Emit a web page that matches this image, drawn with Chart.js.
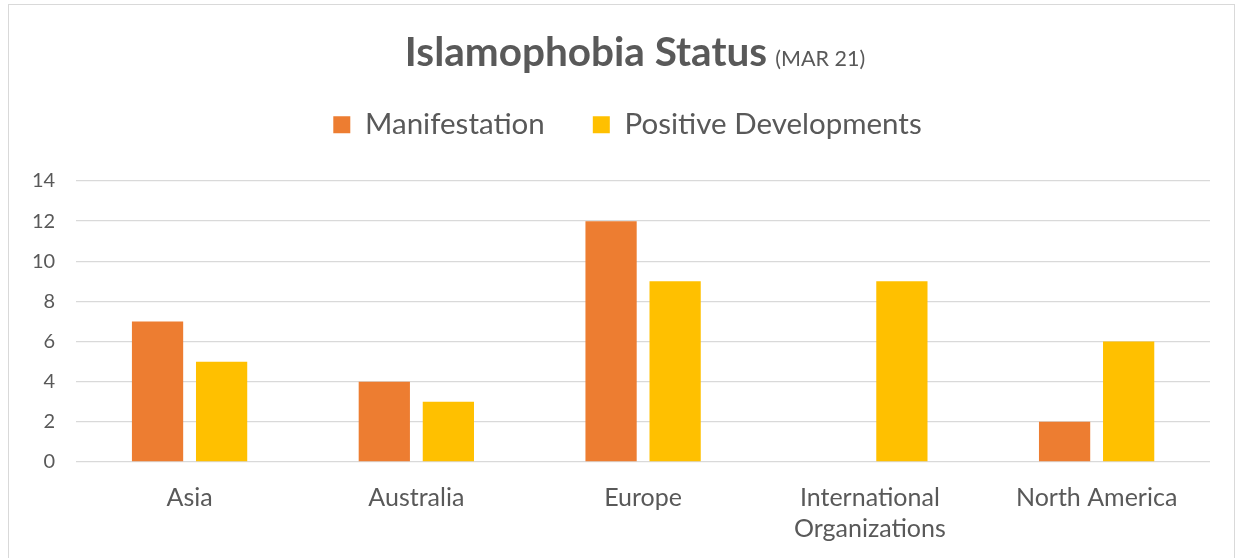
<!DOCTYPE html>
<html>
<head>
<meta charset="utf-8">
<script src="https://cdn.jsdelivr.net/npm/chart.js@4"></script>
<style>
  html, body { margin: 0; padding: 0; background: #fff; }
  #wrap { position: relative; width: 1238px; height: 558px; overflow: hidden; }
  #frame { position: absolute; left: 8px; top: 4px; width: 1227px; height: 560px; border: 1px solid #d9d9d9; box-sizing: border-box; }
  #title { position: absolute; left: 0; top: 26px; width: 1270px; text-align: center; color: #595959; font-family: Lato, "Open Sans", sans-serif; white-space: nowrap; }
  #title .main { font-size: 40.5px; font-weight: bold; }
  #title .sub { font-size: 21.5px; margin-left: 4px; }
  canvas { position: absolute; left: 0; top: 0; }
</style>
</head>
<body>
<div id="wrap">
  <div id="frame"></div>
  <canvas id="c" width="1238" height="558"></canvas>
  <div id="title"><span class="main">Islamophobia Status</span> <span class="sub">(MAR 21)</span></div>
</div>
<script>
const categories = ['Asia', 'Australia', 'Europe', ['International', 'Organizations'], 'North America'];
const manifestation = [7, 4, 12, null, 2];
const positiveDevelopments = [5, 3, 9, 9, 6];
const yTicks = [0, 2, 4, 6, 8, 10, 12, 14];

const textColor = '#595959';
const fontFamily = 'Lato, "Open Sans", sans-serif';

const padTop = 62;
const legendPad = 48;

new Chart(document.getElementById('c'), {
  type: 'bar',
  data: {
    labels: categories,
    datasets: [
      { label: 'Manifestation', data: manifestation, backgroundColor: '#ED7D31', borderWidth: 0,
        categoryPercentage: 0.565, barPercentage: 0.8 },
      { label: 'Positive Developments', data: positiveDevelopments, backgroundColor: '#FFC000', borderWidth: 0,
        categoryPercentage: 0.565, barPercentage: 0.8 }
    ]
  },
  options: {
    responsive: false,
    devicePixelRatio: 1,
    animation: false,
    layout: { padding: { top: padTop, right: 28, left: 11, bottom: 0 } },
    plugins: {
      title: { display: false },
      tooltip: { enabled: false },
      legend: {
        position: 'top',
        labels: {
          color: textColor,
          font: { family: fontFamily, size: 29.5 },
          boxWidth: 17, boxHeight: 17,
          padding: legendPad,
          useBorderRadius: false
        }
      }
    },
    scales: {
      x: {
        grid: { display: false, drawTicks: false },
        border: { display: false },
        afterFit: (scale) => { scale.height = 558 - 462; },
        ticks: {
          color: textColor,
          font: { family: fontFamily, size: 25, lineHeight: 1.25 },
          maxRotation: 0, minRotation: 0, autoSkip: false, padding: 20
        }
      },
      y: {
        min: 0, max: 14,
        afterBuildTicks: (axis) => { axis.ticks = yTicks.map(v => ({ value: v })); },
        grid: { color: '#d9d9d9', lineWidth: 1.3, drawTicks: false },
        border: { display: false },
        ticks: {
          color: textColor,
          font: { family: fontFamily, size: 20 },
          padding: 21
        }
      }
    }
  },
  plugins: [{
    id: 'legendPlacement',
    beforeInit(chart) {
      const fit = chart.legend.fit;
      chart.legend.fit = function () {
        fit.bind(chart.legend)();
        this.height = 181 - padTop;
      };
    },
    afterLayout(chart) {
      chart.legend.left += 17;
      chart.legend.right += 17;
    }
  }]
});
</script>
</body>
</html>
